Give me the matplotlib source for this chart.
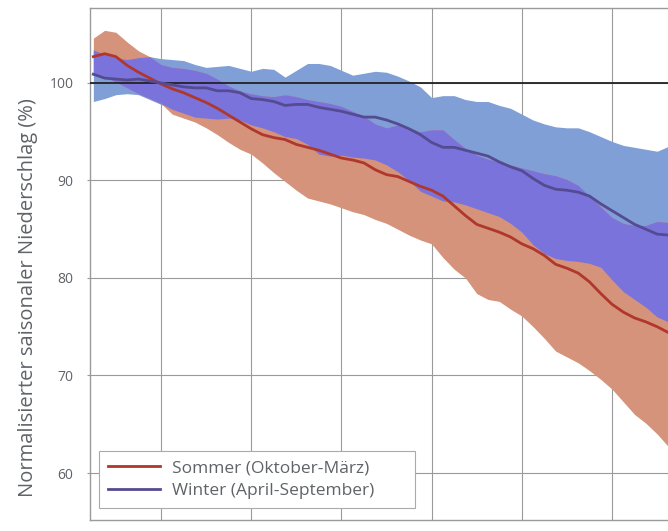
import numpy as np
import matplotlib
matplotlib.use("Agg")
import matplotlib.pyplot as plt

plt.rcParams['font.family'] = ['Open Sans', 'DejaVu Sans']

years = [1985 + 2.5 * i for i in range(52)]

sommer_mean = [102.7, 103.0, 102.7, 101.8, 101.1, 100.5, 99.9, 99.4, 99.0, 98.5,
               98.0, 97.4, 96.7, 96.0, 95.3, 94.7, 94.4, 94.2, 93.7, 93.4,
               93.1, 92.7, 92.3, 92.1, 91.8, 91.1, 90.6, 90.4, 89.9, 89.4,
               89.0, 88.4, 87.4, 86.4, 85.5, 85.1, 84.7, 84.2, 83.5, 83.0,
               82.3, 81.4, 81.0, 80.5, 79.6, 78.4, 77.3, 76.5, 75.9, 75.5,
               75.0, 74.4]
sommer_upper = [104.6, 105.4, 105.2, 104.2, 103.3, 102.7, 101.9, 101.6, 101.5, 101.3,
                101.0, 100.4, 99.7, 99.2, 98.9, 98.7, 98.6, 98.8, 98.6, 98.3,
                98.1, 97.9, 97.6, 97.1, 96.6, 95.8, 95.4, 95.7, 95.4, 95.0,
                95.2, 95.2, 94.2, 93.3, 92.6, 92.2, 91.9, 91.6, 91.3, 91.0,
                90.7, 90.5, 90.1, 89.5, 88.4, 87.3, 86.2, 85.6, 85.4, 85.4,
                85.8, 85.7]
sommer_lower = [100.8, 100.6, 100.1, 99.5, 98.9, 98.4, 97.9, 96.8, 96.4, 96.0,
                95.4, 94.7, 93.9, 93.2, 92.7, 91.8, 90.8, 89.9, 89.0, 88.2,
                87.9, 87.6, 87.2, 86.8, 86.5, 86.0, 85.6, 85.0, 84.4, 83.9,
                83.5, 82.1, 80.9, 80.0, 78.4, 77.8, 77.6, 76.8, 76.1, 75.0,
                73.8, 72.5, 71.9, 71.3, 70.5, 69.6, 68.6, 67.3, 66.0, 65.1,
                64.0, 62.7]

winter_mean = [100.9, 100.5, 100.4, 100.3, 100.4, 100.2, 100.0, 99.8, 99.6, 99.5,
               99.5, 99.2, 99.2, 99.0, 98.4, 98.3, 98.1, 97.7, 97.8, 97.8,
               97.5, 97.3, 97.1, 96.8, 96.5, 96.5, 96.2, 95.8, 95.3, 94.7,
               93.9, 93.4, 93.4, 93.1, 92.8, 92.5, 91.9, 91.4, 91.0, 90.2,
               89.5, 89.1, 89.0, 88.8, 88.4, 87.6, 86.9, 86.2, 85.5, 85.0,
               84.5, 84.4]
winter_upper = [103.4, 102.9, 102.6, 102.4, 102.6, 102.7, 102.5, 102.4, 102.3, 101.9,
                101.6, 101.7, 101.8, 101.5, 101.2, 101.5, 101.4, 100.6, 101.3, 102.0,
                102.0, 101.8, 101.3, 100.8, 101.0, 101.2, 101.1, 100.7, 100.2, 99.6,
                98.5, 98.7, 98.7, 98.3, 98.1, 98.1, 97.7, 97.4, 96.8, 96.2,
                95.8, 95.5, 95.4, 95.4, 95.0, 94.5, 94.0, 93.6, 93.4, 93.2,
                93.0, 93.5]
winter_lower = [98.1, 98.4, 98.8, 98.9, 98.8, 98.3, 97.8, 97.3, 96.9, 96.5,
                96.4, 96.3, 96.4, 96.2, 95.7, 95.4, 95.0, 94.5, 94.3, 93.7,
                92.7, 92.5, 92.6, 92.4, 92.3, 92.1, 91.6, 90.9, 90.0, 88.9,
                88.4, 87.9, 87.8, 87.5, 87.1, 86.7, 86.3, 85.6, 84.7, 83.4,
                82.5, 82.0, 81.8, 81.7, 81.5, 81.1, 79.8, 78.6, 77.8, 77.0,
                76.0, 75.5]

yticks = [60, 70, 80, 90, 100]
xgrid = [2000, 2020, 2040, 2060, 2080, 2100]
labels = ["Sommer (Oktober-März)", "Winter (April-September)"]

c_blue = "#809fd6"
c_salmon = "#d4937a"
c_purple = "#7b73dc"
c_red = "#b0372c"
c_wline = "#544c90"
c_text = "#5f6368"

x = np.array(years)
su, sl = np.array(sommer_upper), np.array(sommer_lower)
wu, wl = np.array(winter_upper), np.array(winter_lower)

fig = plt.figure(figsize=(6.68, 5.31), dpi=100)
ax = fig.add_axes([90 / 668, 11 / 531, 578 / 668, 512 / 531])

ax.fill_between(x, wl, wu, color=c_blue, lw=0, zorder=2)
ax.fill_between(x, sl, su, color=c_salmon, lw=0, zorder=2)
ov_lo = np.maximum(wl, sl)
ov_hi = np.minimum(wu, su)
ax.fill_between(x, ov_lo, ov_hi, where=ov_hi > ov_lo, interpolate=True,
                color=c_purple, lw=0, zorder=3)

ax.axhline(100, color="#222222", lw=1.3, zorder=4)
ax.plot(x, sommer_mean, color=c_red, lw=2.0, zorder=5, label=labels[0])
ax.plot(x, winter_mean, color=c_wline, lw=2.0, zorder=5, label=labels[1])

ax.set_xlim(1984.26, 2112.4)
ax.set_ylim(55.18, 107.69)
ax.set_xticks(xgrid)
ax.set_xticklabels([])
ax.tick_params(axis='x', length=0)
ax.set_yticks(yticks)
ax.set_yticklabels([str(v) for v in yticks])
ax.tick_params(axis='y', length=2, pad=10, labelsize=10, labelcolor=c_text, color="#999999")
ax.grid(True, color="#9a9a9a", lw=0.8, zorder=1)
ax.set_axisbelow(True)

for s in ['left', 'top', 'bottom']:
    ax.spines[s].set_color("#9a9a9a")
    ax.spines[s].set_linewidth(1.0)
ax.spines['right'].set_visible(False)

ax.set_ylabel("Normalisierter saisonaler Niederschlag (%)", fontsize=14.5, color=c_text)
ax.yaxis.set_label_coords(-0.09, 0.434)

leg = ax.legend(loc='lower left', bbox_to_anchor=(0.0156, 0.0234, 0.5467, 0.11),
                mode='expand', borderaxespad=0,
                fancybox=False, framealpha=1, edgecolor="#aaaaaa", fontsize=12.5,
                handlelength=3.0, handletextpad=0.7, labelcolor=c_text,
                borderpad=0.5, labelspacing=0.4)
leg.get_frame().set_linewidth(0.8)
leg.set_zorder(10)

fig.savefig("out.png", dpi=100)
